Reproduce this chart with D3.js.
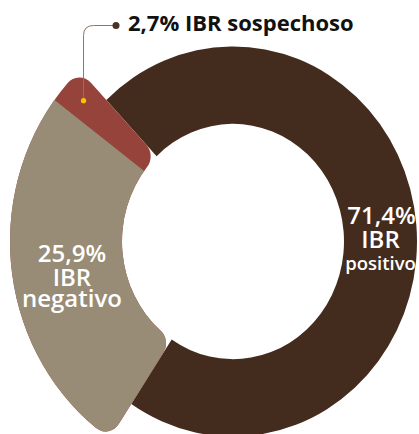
<!DOCTYPE html>
<html>
<head>
<meta charset="utf-8">
<script src="https://cdn.jsdelivr.net/npm/d3@7"></script>
<style>
  body { margin: 0; background: #fff; }
  svg { display: block; font-family: "Open Sans", sans-serif; }
</style>
</head>
<body>
<svg width="419" height="434"></svg>
<script>
// data
var categories = ["positivo", "negativo", "sospechoso"];
var values = [71.4, 25.9, 2.7];
var pctLabels = ["71,4%", "25,9%", "2,7%"];
var colors = ["#432c1e", "#988c76", "#96443b"];

var svg = d3.select("svg");
var cx = 233, cy = 241.5, sy = 1.06;
var rIn = 111, rOutMain = 184, rOutBig = 223;

var a0 = -43.5 * Math.PI / 180;
var pie = d3.pie().sort(null).startAngle(a0).endAngle(a0 + 2 * Math.PI);
var arcs = pie(values);

var g = svg.append("g")
    .attr("transform", "translate(" + cx + "," + cy + ") scale(1," + sy + ")");

// positivo ring
g.append("path")
    .attr("d", d3.arc().innerRadius(rIn).outerRadius(rOutMain)(arcs[0]))
    .attr("fill", colors[0]);

// negativo + sospechoso as one rounded block, negativo clipped out of it
var block = { startAngle: arcs[1].startAngle, endAngle: arcs[2].endAngle };
var bigArc = d3.arc().innerRadius(rIn).outerRadius(rOutBig).cornerRadius(16);

g.append("path").attr("d", bigArc(block)).attr("fill", colors[2]);

g.append("clipPath").attr("id", "negClip")
  .append("path")
    .attr("d", d3.arc().innerRadius(0).outerRadius(300)(arcs[1]));

g.append("path")
    .attr("clip-path", "url(#negClip)")
    .attr("d", bigArc(block))
    .attr("fill", colors[1]);

// labels inside the ring
function polar(a, r) {
  return [cx + r * Math.sin(a), cy - r * Math.cos(a) * sy];
}

var posP = polar(Math.PI / 2, (rIn + rOutMain) / 2);
var tPos = svg.append("text").attr("fill", "#fff").attr("text-anchor", "middle")
    .attr("font-weight", 600);
tPos.append("tspan").attr("x", posP[0] + 1).attr("y", posP[1] - 17.5).attr("font-size", 24).text(pctLabels[0]);
tPos.append("tspan").attr("x", posP[0]).attr("y", posP[1] + 6.5).attr("font-size", 24).text("IBR");
tPos.append("tspan").attr("x", posP[0]).attr("y", posP[1] + 28.5).attr("font-size", 18.5).text(categories[0]);

var negA = (arcs[1].startAngle + arcs[1].endAngle) / 2;
var negP = polar(negA, (rIn + rOutBig) / 2);
var tNeg = svg.append("text").attr("fill", "#fff").attr("text-anchor", "middle")
    .attr("font-weight", 600).attr("font-size", 24);
tNeg.append("tspan").attr("x", negP[0] + 3.5).attr("y", negP[1] - 10).text(pctLabels[1]);
tNeg.append("tspan").attr("x", negP[0] + 3.5).attr("y", negP[1] + 14).text("IBR");
tNeg.append("tspan").attr("x", negP[0] + 3.5).attr("y", negP[1] + 35).text(categories[1]);

// leader for sospechoso
var susA = (arcs[2].startAngle + arcs[2].endAngle) / 2;
var susP = polar(susA, 200);
var ly = 25.5, lx = 116, cr = 10;
svg.append("path")
    .attr("d", "M" + susP[0] + "," + susP[1] +
               "V" + (ly + cr) +
               "Q" + susP[0] + "," + ly + " " + (susP[0] + cr) + "," + ly +
               "H" + lx)
    .attr("fill", "none")
    .attr("stroke", "#8a7668")
    .attr("stroke-width", 1);
svg.append("circle").attr("cx", lx).attr("cy", ly).attr("r", 3.5).attr("fill", "#4a3326");
svg.append("circle").attr("cx", susP[0]).attr("cy", susP[1]).attr("r", 2.6).attr("fill", "#f2c500");

svg.append("text")
    .attr("x", 128).attr("y", 31)
    .attr("font-size", 22).attr("font-weight", 700).attr("fill", "#111")
    .text(pctLabels[2] + " IBR " + categories[2]);
</script>
</body>
</html>
